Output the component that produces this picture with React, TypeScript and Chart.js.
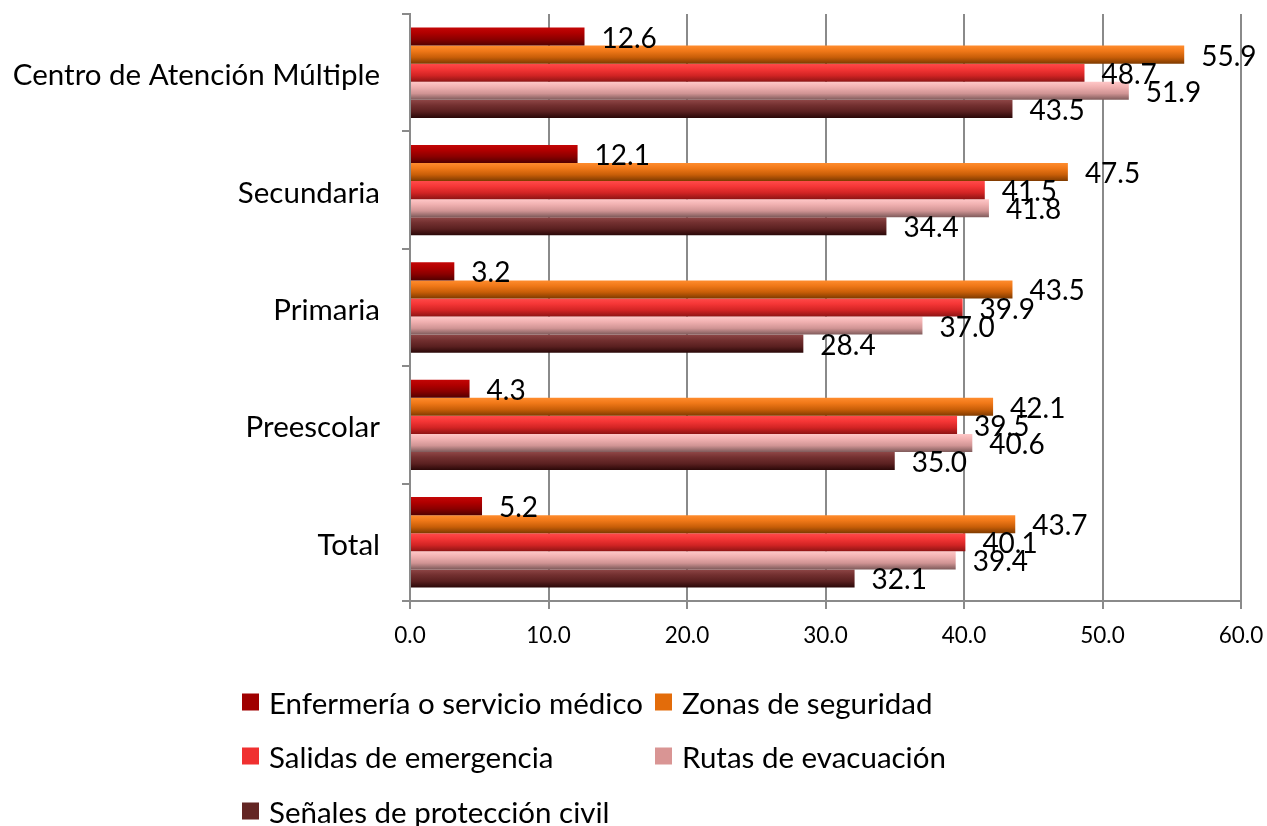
import React, { useEffect, useRef } from "react";
import { Chart, registerables } from "chart.js";

Chart.register(...registerables);

const categories = [
  "Centro de Atención Múltiple",
  "Secundaria",
  "Primaria",
  "Preescolar",
  "Total",
];

const seriesNames = [
  "Enfermería o servicio médico",
  "Zonas de seguridad",
  "Salidas de emergencia",
  "Rutas de evacuación",
  "Señales de protección civil",
];

const enfermeria = [12.6, 12.1, 3.2, 4.3, 5.2];
const zonas = [55.9, 47.5, 43.5, 42.1, 43.7];
const salidas = [48.7, 41.5, 39.9, 39.5, 40.1];
const rutas = [51.9, 41.8, 37.0, 40.6, 39.4];
const senales = [43.5, 34.4, 28.4, 35.0, 32.1];

const seriesValues = [enfermeria, zonas, salidas, rutas, senales];

const legendColors = ["#A00000", "#E36C0A", "#F03030", "#D99594", "#632523"];
const gradientStops = [
  ["#C40606", "#B00000", "#8A0000", "#520000"],
  ["#FF8C2E", "#F07818", "#C85E08", "#7E3A00"],
  ["#FF4A4A", "#F53636", "#D22424", "#8E1414"],
  ["#FFC8C8", "#F0B0B0", "#D09494", "#7E5A5A"],
  ["#8E4646", "#733030", "#5A2020", "#2A0808"],
];

const FONT = "Lato, 'Noto Sans', sans-serif";

const gradientPlugin = {
  id: "barGradient",
  beforeDatasetsDraw(chart: any) {
    const ctx = chart.ctx;
    chart.data.datasets.forEach((_: any, di: number) => {
      const meta = chart.getDatasetMeta(di);
      const stops = gradientStops[di];
      meta.data.forEach((el: any) => {
        const h = el.height;
        const top = el.y - h / 2;
        const g = ctx.createLinearGradient(0, top, 0, top + h);
        g.addColorStop(0, stops[0]);
        g.addColorStop(0.3, stops[1]);
        g.addColorStop(0.65, stops[2]);
        g.addColorStop(1, stops[3]);
        el.options = Object.assign({}, el.options, { backgroundColor: g });
      });
    });
  },
};

const labelPlugin = {
  id: "valueLabels",
  afterDatasetsDraw(chart: any) {
    const ctx = chart.ctx;
    ctx.save();
    ctx.font = `28px ${FONT}`;
    ctx.fillStyle = "#000";
    ctx.textAlign = "left";
    ctx.textBaseline = "middle";
    chart.data.datasets.forEach((ds: any, di: number) => {
      const meta = chart.getDatasetMeta(di);
      meta.data.forEach((el: any, i: number) => {
        ctx.fillText(Number(ds.data[i]).toFixed(1), el.x + 17, el.y + 2);
      });
    });
    ctx.restore();
  },
};

export default function App() {
  const canvasRef = useRef<HTMLCanvasElement | null>(null);

  useEffect(() => {
    document.body.style.margin = "0";
    const canvas = canvasRef.current;
    if (!canvas) return;
    const chart = new Chart(canvas, {
      type: "bar",
      data: {
        labels: categories,
        datasets: seriesNames.map((name, i) => ({
          label: name,
          data: seriesValues[i],
          backgroundColor: legendColors[i],
          borderWidth: 0,
          categoryPercentage: 0.77,
          barPercentage: 1.0,
        })),
      },
      options: {
        indexAxis: "y",
        responsive: false,
        animation: false,
        devicePixelRatio: 1,
        layout: { padding: { top: 14, right: 26, left: 0, bottom: 0 } },
        plugins: {
          legend: { display: false },
          tooltip: { enabled: false },
        },
        scales: {
          x: {
            min: 0,
            max: 60,
            ticks: {
              stepSize: 10,
              color: "#000",
              font: { family: FONT, size: 22.5 },
              padding: 13,
              callback: (v: any) => Number(v).toFixed(1),
            },
            grid: {
              color: "#8A8A8A",
              lineWidth: 2,
              tickLength: 8,
              drawTicks: true,
            },
            border: { display: true, color: "#8A8A8A", width: 2 },
            afterFit: (scale: any) => {
              scale.height = 225;
              scale.paddingLeft = 0;
              scale.paddingRight = 0;
            },
          },
          y: {
            ticks: {
              color: "#000",
              font: { family: FONT, size: 29.5 },
              padding: 22,
              labelOffset: 3,
            },
            grid: {
              drawOnChartArea: false,
              color: "#8A8A8A",
              lineWidth: 2,
              tickLength: 8,
              offset: true,
            },
            border: { display: true, color: "#8A8A8A", width: 2 },
            afterFit: (scale: any) => {
              scale.width = 410;
              scale.paddingTop = 0;
              scale.paddingBottom = 0;
            },
          },
        },
      },
      plugins: [gradientPlugin, labelPlugin],
    });
    return () => chart.destroy();
  }, []);

  const legendPos = [
    { left: 242, top: 702 },
    { left: 655, top: 702 },
    { left: 242, top: 756 },
    { left: 655, top: 756 },
    { left: 242, top: 811 },
  ];

  return (
    <div style={{ position: "relative", width: 1267, height: 826, overflow: "hidden", background: "#fff" }}>
      <canvas ref={canvasRef} width={1267} height={826} style={{ display: "block" }} />
      {seriesNames.map((name, i) => (
        <div
          key={name}
          style={{
            position: "absolute",
            left: legendPos[i].left,
            top: legendPos[i].top,
            transform: "translateY(-50%)",
            display: "flex",
            alignItems: "center",
            fontFamily: FONT,
            fontSize: 29.5,
            color: "#000",
            whiteSpace: "nowrap",
          }}
        >
          <span
            style={{
              display: "inline-block",
              width: 17,
              height: 17,
              background: legendColors[i],
              marginRight: 10,
            }}
          />
          <span>{name}</span>
        </div>
      ))}
    </div>
  );
}
